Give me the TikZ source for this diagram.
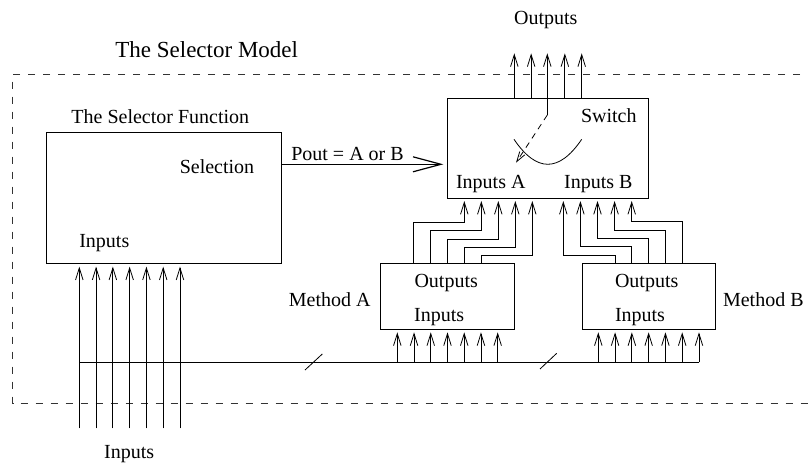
\documentclass[tikz,border=0pt]{standalone}
\usepackage{fontspec}
\setmainfont{Liberation Serif}
\usetikzlibrary{arrows.meta}
\begin{document}
\begin{tikzpicture}[x=1pt,y=-1pt,line width=0.8pt,
  every node/.style={font=\fontsize{20pt}{24pt}\selectfont},
  lbl/.style={anchor=base,inner sep=0pt},
  boxn/.style={draw,rectangle,inner sep=0pt,anchor=north west},
  arr/.style={-{Straight Barb[length=12pt,width=7.5pt]},shorten >=2.5pt},
  bigarr/.style={-{Straight Barb[length=28pt,width=15pt]},shorten >=4pt,line width=1.2pt},
  frame/.style={dash pattern=on 7pt off 8pt,line width=0.8pt,black!80}]
\useasboundingbox (0,0) rectangle (808,463);
\clip (0,0) rectangle (808,463);
% dashed model frame
\draw[frame] (830,74) -- (12.5,74) -- (12.5,403.3) -- (830,403.3);
\node[lbl,font=\fontsize{23pt}{27pt}\selectfont] (title) at (206.7,57.3) {The Selector Model};
% boxes
\node[boxn,minimum width=234.7pt,minimum height=131.6pt] (sf) at (46,131.7) {};
\node[boxn,minimum width=201pt,minimum height=99.4pt] (sw) at (447.3,98.3) {};
\node[boxn,minimum width=134.3pt,minimum height=65.7pt] (ma) at (380,263.3) {};
\node[boxn,minimum width=133.3pt,minimum height=65.7pt] (mb) at (581.7,263.3) {};
% texts
\node[lbl] (sftitle) at (160.3,123.3) {The Selector Function};
\node[lbl] (selection) at (217,173.3) {Selection};
\node[lbl] (sfin) at (104.3,247.3) {Inputs};
\node[lbl] (pout) at (347.5,160) {Pout = A or B};
\node[lbl] (outs) at (545.8,24) {Outputs};
\node[lbl] (switch) at (608.8,122.7) {Switch};
\node[lbl] (ina) at (490.8,188.3) {Inputs A};
\node[lbl] (inb) at (598.3,188.3) {Inputs B};
\node[lbl] (maout) at (446.2,287.7) {Outputs};
\node[lbl] (main) at (439.2,321) {Inputs};
\node[lbl] (mbout) at (646.7,287.7) {Outputs};
\node[lbl] (mbin) at (640,321) {Inputs};
\node[lbl] (mal) at (329.7,306) {Method A};
\node[lbl] (mbl) at (763.3,306) {Method B};
\node[lbl] (inl) at (129.2,458.5) {Inputs};
% Pout arrow
\draw[bigarr] (sf.east |- 0,164.3) -- (sw.west |- 0,164.3);
% outer inputs into selector function
\foreach \i in {0,...,6}{
  \pgfmathsetmacro\xx{79.3+16.78*\i}
  \draw[arr] (\xx,428.3) -- (\xx,0 |- sf.south);
}
% bus
\coordinate (busL) at (79.3,362.3);
\coordinate (busR) at (699,362.3);
\draw[line width=1.1pt] (busL) -- (busR);
\draw (305,370) -- (322.3,354);
\draw (540,369) -- (556.7,353.3);
% method inputs
\foreach \i in {0,...,6}{
  \pgfmathsetmacro\xa{397.3+16.73*\i}
  \pgfmathsetmacro\xb{598.3+16.78*\i}
  \draw[arr] (\xa,0 |- busL) -- (\xa,0 |- ma.south);
  \draw[arr] (\xb,0 |- busL) -- (\xb,0 |- mb.south);
}
% method A outputs to switch inputs A
\foreach \i in {0,...,4}{
  \pgfmathsetmacro\xa{413.3+16.9*\i}
  \pgfmathsetmacro\xb{464.3+17*\i}
  \pgfmathsetmacro\ya{222.3+8.35*\i}
  \draw[arr] (\xa,0 |- ma.north) -- (\xa,\ya) -- (\xb,\ya) -- (\xb,0 |- sw.south);
}
% method B outputs to switch inputs B
\foreach \i in {0,...,4}{
  \pgfmathsetmacro\xa{615+16.8*\i}
  \pgfmathsetmacro\xb{563.3+17.1*\i}
  \pgfmathsetmacro\ya{255-8.33*\i}
  \draw[arr] (\xa,0 |- mb.north) -- (\xa,\ya) -- (\xb,\ya) -- (\xb,0 |- sw.south);
}
% switch outputs
\foreach \i in {0,1,3,4}{
  \pgfmathsetmacro\xx{514.3+16.85*\i}
  \draw[arr,shorten >=0pt] (\xx,0 |- sw.north) -- (\xx,53.3);
}
\coordinate (pivot) at (547.3,115);
\coordinate (contact) at (516,162.7);
\draw[arr,shorten >=0pt] (pivot) -- (547.3,53.3);
\draw[line width=1.3pt] (pivot) -- (547.3,98.3);
\draw[dash pattern=on 6pt off 5pt,-{Straight Barb[length=10pt,width=6pt]}] (pivot) -- (contact);
\coordinate (cA) at (514,139.3);
\coordinate (cB) at (581.7,139.3);
\draw (cA) .. controls (536.5,172.6) and (559.1,172.6) .. (cB);
\end{tikzpicture}
\end{document}
